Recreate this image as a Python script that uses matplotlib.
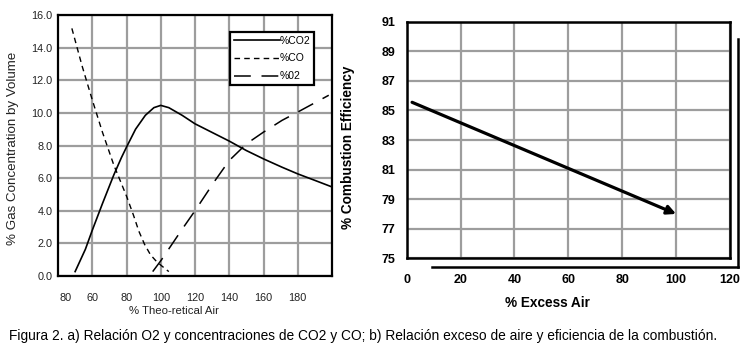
"""Figura 2: gas concentration vs theoretical air, and combustion efficiency vs excess air."""

import matplotlib
matplotlib.use("Agg")
import matplotlib.pyplot as plt
from matplotlib.lines import Line2D

# Panel a) data
CO2_X = [50, 56, 60, 66, 72.6, 77, 80, 85.3, 91, 96, 100, 104.7, 112.5, 120,
         130, 140, 150, 160, 170.8, 180, 190.3, 199.5]
CO2_Y = [0.27, 1.64, 2.8, 4.45, 6.2, 7.25, 7.9, 9.0, 9.85, 10.32, 10.46, 10.32,
         9.85, 9.33, 8.8, 8.27, 7.69, 7.18, 6.67, 6.26, 5.85, 5.48]
CO_X = [48.1, 54, 60, 66, 72.6, 80, 84, 87.2, 90.5, 94, 97, 100.2, 104.7]
CO_Y = [15.18, 12.9, 10.8, 8.8, 6.8, 4.9, 3.75, 2.75, 1.95, 1.3, 0.95, 0.65, 0.27]
O2_X = [95.3, 100.2, 112.5, 120, 131.7, 140, 150, 160, 170.8, 180, 198.1]
O2_Y = [0.27, 0.96, 2.87, 4.0, 5.85, 7.08, 8.1, 8.82, 9.54, 10.05, 11.08]

LEFT_XTICKS = [60, 80, 100, 120, 140, 160, 180]
LEFT_YTICKS = [0, 2, 4, 6, 8, 10, 12, 14, 16]

# Panel b) data
EFF_X = [2, 100]
EFF_Y = [85.55, 78.0]
RIGHT_XTICKS = [0, 20, 40, 60, 80, 100, 120]
RIGHT_YTICKS = [75, 77, 79, 81, 83, 85, 87, 89, 91]

GRID = "#9d9d9d"
W, H = 749, 352

plt.rcParams["font.family"] = ["Liberation Sans", "DejaVu Sans"]

fig = plt.figure(figsize=(W / 100, H / 100), dpi=100)
fig.patch.set_facecolor("white")

# ---- left panel ----
ax1 = fig.add_axes([58 / W, 1 - 276 / H, 274 / W, 261 / H])
ax1.plot(CO2_X, CO2_Y, color="black", lw=1.2, label="%CO2")
ax1.plot(CO_X, CO_Y, color="black", lw=1.0, dashes=(4, 3), label="%CO")
ax1.plot(O2_X, O2_Y, color="black", lw=1.1, dashes=(11, 7), label="%02")
ax1.set_xlim(40, 200)
ax1.set_ylim(0, 16)
ax1.set_xticks(LEFT_XTICKS)
ax1.set_xticklabels([str(v) for v in LEFT_XTICKS])
ax1.set_xticks([44.5], labels=["80"], minor=True)
ax1.set_yticks(LEFT_YTICKS)
ax1.set_yticklabels([f"{v:.1f}" for v in LEFT_YTICKS])
ax1.grid(True, which="major", color=GRID, lw=1.6)
ax1.set_axisbelow(True)
ax1.tick_params(which="both", length=0, labelsize=7.8, labelcolor="#222222")
ax1.tick_params(axis="x", which="both", pad=12)
ax1.tick_params(axis="y", pad=4)
for s in ax1.spines.values():
    s.set_linewidth(1.6)
leg = ax1.legend(loc="upper right", bbox_to_anchor=(0.934, 0.935), fontsize=7.5,
                 handlelength=4.4, handletextpad=0.0, labelspacing=0.75,
                 borderpad=0.35, borderaxespad=0, fancybox=False, framealpha=1,
                 edgecolor="black")
leg.get_frame().set_linewidth(1.6)

fig.text(13 / W, 1 - 148 / H, "% Gas Concentration by Volume", rotation=90,
         ha="center", va="center", fontsize=9.6, color="#222222")
fig.text(174 / W, 1 - 311 / H, "% Theo-retical Air", ha="center", va="center",
         fontsize=8.2, color="#222222")

# ---- right panel ----
ax2 = fig.add_axes([406.7 / W, 1 - 258.3 / H, 323.3 / W, 236.6 / H])
ax2.set_xlim(0, 120)
ax2.set_ylim(75, 91)
ax2.set_xticks(RIGHT_XTICKS)
ax2.set_yticks(RIGHT_YTICKS)
ax2.grid(True, color=GRID, lw=1.6)
ax2.set_axisbelow(True)
ax2.tick_params(length=0, labelsize=9)
ax2.tick_params(axis="x", pad=11)
ax2.tick_params(axis="y", pad=8)
for lab in ax2.get_xticklabels() + ax2.get_yticklabels():
    lab.set_fontweight("bold")
for s in ax2.spines.values():
    s.set_linewidth(1.8)
ax2.annotate("", xy=(EFF_X[1], EFF_Y[1]), xytext=(EFF_X[0], EFF_Y[0]),
             arrowprops=dict(arrowstyle="-|>", color="black", lw=2.3,
                             mutation_scale=13, shrinkA=0, shrinkB=0))

# drop-shadow style frame lines
ax2.add_line(Line2D([1.026, 1.026], [-0.036, 0.926], transform=ax2.transAxes,
                    color="black", lw=1.8, clip_on=False))
ax2.add_line(Line2D([0.077, 1.026], [-0.036, -0.036], transform=ax2.transAxes,
                    color="black", lw=1.8, clip_on=False))

fig.text(348 / W, 1 - 147 / H, "% Combustion Efficiency", rotation=90,
         ha="center", va="center", fontsize=9.8, fontweight="bold")
fig.text(547 / W, 1 - 303 / H, "% Excess Air", ha="center", va="center",
         fontsize=9.8, fontweight="bold")

# caption
fig.text(9 / W, 1 - 336 / H,
         "Figura 2. a) Relación O2 y concentraciones de CO2 y CO; "
         "b) Relación exceso de aire y eficiencia de la combustión.",
         ha="left", va="center", fontsize=9.9)

fig.savefig("out.png", dpi=100)
